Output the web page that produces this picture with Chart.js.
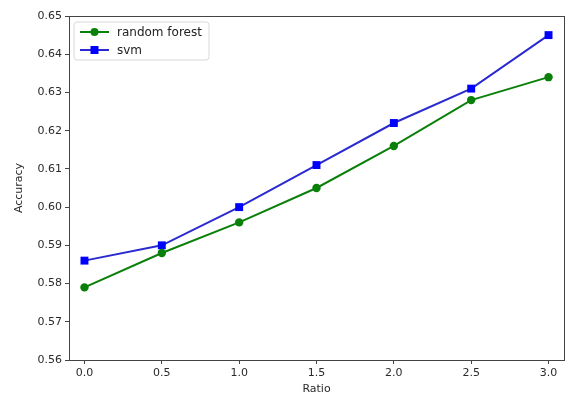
<!DOCTYPE html>
<html>
<head>
<meta charset="utf-8">
<script src="https://cdn.jsdelivr.net/npm/chart.js@4/dist/chart.umd.min.js"></script>
<style>
	html, body { margin: 0; padding: 0; background: #fff; }
	#wrap { width: 570px; height: 396px; position: relative; }
</style>
</head>
<body>
<div id="wrap"><canvas id="chart"></canvas></div>
<script>
// data
const ratios = [0.0, 0.5, 1.0, 1.5, 2.0, 2.5, 3.0];
const randomForest = [0.579, 0.588, 0.596, 0.605, 0.616, 0.628, 0.634];
const svm = [0.586, 0.590, 0.600, 0.611, 0.622, 0.631, 0.645];
const seriesNames = ["random forest", "svm"];
const yTicks = [0.56, 0.57, 0.58, 0.59, 0.60, 0.61, 0.62, 0.63, 0.64, 0.65];
const xTicks = [0.0, 0.5, 1.0, 1.5, 2.0, 2.5, 3.0];

const font = "'DejaVu Sans', sans-serif";
const axisColor = "#444";

function toPoints(ys) {
	return ratios.map((x, i) => ({ x: x, y: ys[i] }));
}

// frame round the plot and a matplotlib style legend in the upper left
const framePlugin = {
	id: "frame",
	afterDraw(chart) {
		const ctx = chart.ctx;
		const a = chart.chartArea;
		ctx.save();
		ctx.strokeStyle = axisColor;
		ctx.lineWidth = 1;
		ctx.strokeRect(a.left + 0.5, a.top + 0.5, a.right - a.left, a.bottom - a.top);

		// legend box
		const bx = a.left + 5, by = a.top + 6, bw = 135, bh = 38;
		ctx.fillStyle = "rgba(255,255,255,0.8)";
		ctx.strokeStyle = "#d8d8d8";
		ctx.beginPath();
		ctx.roundRect(bx, by, bw, bh, 3);
		ctx.fill();
		ctx.stroke();

		chart.data.datasets.forEach((ds, i) => {
			const y = by + 10 + i * 18;
			ctx.strokeStyle = ds.borderColor;
			ctx.lineWidth = 2;
			ctx.beginPath();
			ctx.moveTo(bx + 6, y);
			ctx.lineTo(bx + 35, y);
			ctx.stroke();
			ctx.fillStyle = ds.backgroundColor;
			if (ds.pointStyle === "rect") {
				ctx.fillRect(bx + 20.5 - 4, y - 4, 8, 8);
			} else {
				ctx.beginPath();
				ctx.arc(bx + 20.5, y, 4, 0, Math.PI * 2);
				ctx.fill();
			}
			ctx.fillStyle = "#222";
			ctx.font = "12px " + font;
			ctx.textBaseline = "middle";
			ctx.fillText(ds.label, bx + 43, y + 1);
		});
		ctx.restore();
	}
};

const context = document.getElementById("chart").getContext("2d");
const chart = new Chart(context, {
	type: "line",
	data: {
		datasets: [{
			label: seriesNames[0],
			data: toPoints(randomForest),
			borderColor: "#0a800a",
			backgroundColor: "#0a800a",
			borderWidth: 2,
			pointStyle: "circle",
			pointRadius: 4.2,
			pointBorderWidth: 0,
			pointHoverRadius: 4.2
		}, {
			label: seriesNames[1],
			data: toPoints(svm),
			borderColor: "#2a2ad0",
			backgroundColor: "#0000ff",
			borderWidth: 2,
			pointStyle: "rect",
			pointRadius: 5.6,
			pointBorderWidth: 0,
			pointHoverRadius: 5.6
		}]
	},
	options: {
		responsive: true,
		maintainAspectRatio: false,
		animation: false,
		events: [],
		layout: { padding: { top: 16, right: 6, left: 13, bottom: 0 } },
		plugins: {
			legend: { display: false },
			tooltip: { enabled: false }
		},
		scales: {
			x: {
				type: "linear",
				min: -0.1,
				max: 3.1,
				afterBuildTicks: (axis) => { axis.ticks = xTicks.map(v => ({ value: v })); },
				afterFit: (axis) => { axis.height = 36; },
				grid: { drawOnChartArea: false, tickLength: 4, color: axisColor, tickColor: axisColor },
				border: { color: axisColor },
				ticks: {
					color: "#2a2a2a",
					font: { family: font, size: 11 },
					padding: 3,
					callback: (v) => Number(v).toFixed(1)
				},
				title: {
					display: true,
					text: "Ratio",
					color: "#2a2a2a",
					font: { family: font, size: 11 },
					padding: { top: 0, bottom: 0 }
				}
			},
			y: {
				min: 0.56,
				max: 0.65,
				afterBuildTicks: (axis) => { axis.ticks = yTicks.map(v => ({ value: v })); },
				afterFit: (axis) => { axis.width = 56; },
				grid: { drawOnChartArea: false, tickLength: 4, color: axisColor, tickColor: axisColor },
				border: { color: axisColor },
				ticks: {
					color: "#2a2a2a",
					font: { family: font, size: 11 },
					padding: 3,
					callback: (v) => Number(v).toFixed(2)
				},
				title: {
					display: true,
					text: "Accuracy",
					color: "#2a2a2a",
					font: { family: font, size: 11 },
					padding: { top: 0, bottom: 0 }
				}
			}
		}
	},
	plugins: [framePlugin]
});
</script>
</body>
</html>
